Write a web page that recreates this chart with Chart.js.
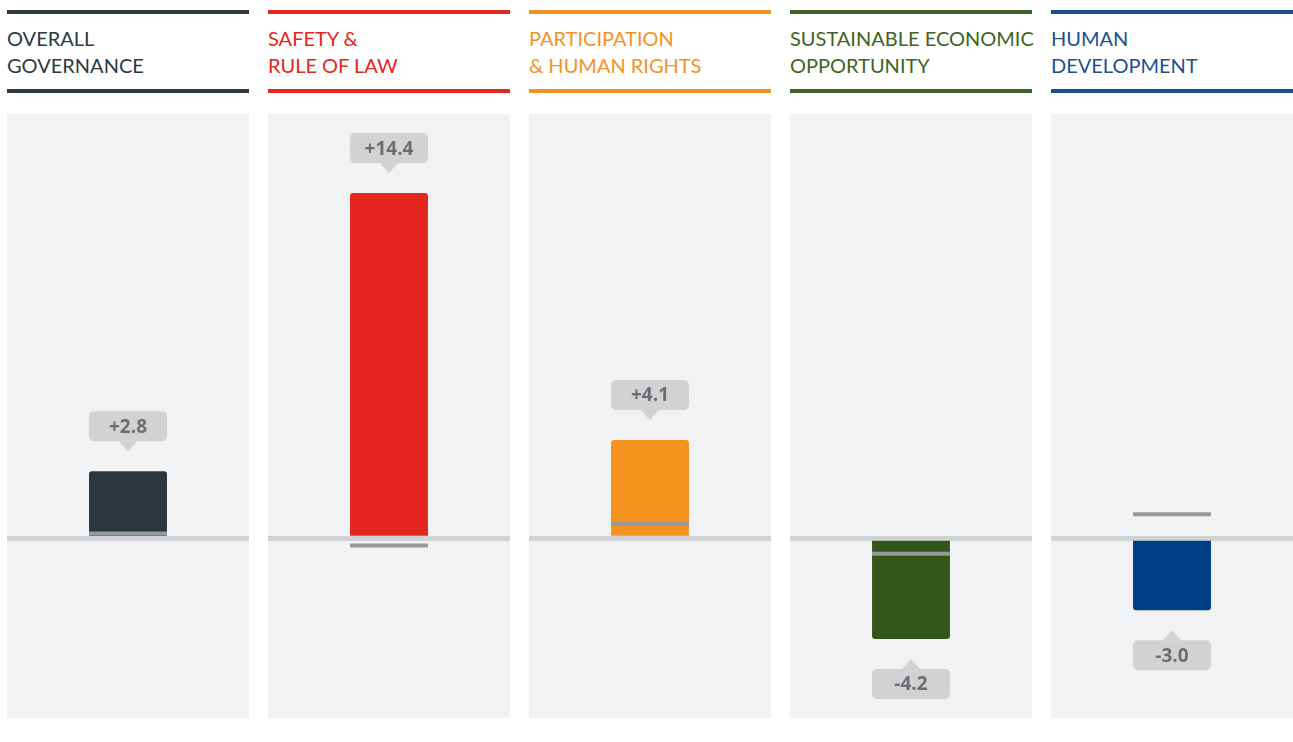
<!DOCTYPE html>
<html>
<head>
<meta charset="utf-8">
<script src="https://cdn.jsdelivr.net/npm/chart.js@4/dist/chart.umd.min.js"></script>
<style>
  body { margin: 0; background: #fff; width: 1293px; height: 742px; overflow: hidden; }
  .row { display: flex; gap: 19px; position: absolute; left: 7px; top: 10px; }
  .col { width: 242px; }
  .head {
    border-top: 4px solid; border-bottom: 4px solid;
    padding: 11px 0 10px 0; height: 54px;
    font-family: Lato, "Open Sans", sans-serif; font-size: 20px; line-height: 27px;
    white-space: nowrap;
  }
  canvas { display: block; margin-top: 21px; background: #f1f2f4; }
</style>
</head>
<body>
<div class="row" id="row"></div>
<script>
var categories = [
    ['OVERALL', 'GOVERNANCE'],
    ['SAFETY &', 'RULE OF LAW'],
    ['PARTICIPATION', '& HUMAN RIGHTS'],
    ['SUSTAINABLE ECONOMIC', 'OPPORTUNITY'],
    ['HUMAN', 'DEVELOPMENT']
];
var changes = [2.8, 14.4, 4.1, -4.2, -3.0];
var markers = [0.2, -0.3, 0.6, -0.65, 1.0];
var headColors = ['#2d3a40', '#e52620', '#f39325', '#3f6424', '#1d4f91'];
var barColors = ['#2c383e', '#e52620', '#f6921e', '#35561a', '#003f87'];

var bubblePlugin = {
    id: 'bubbles',
    afterDatasetsDraw: function (chart) {
        var ctx = chart.ctx;
        var el = chart.getDatasetMeta(1).data[0];
        var v = chart.data.datasets[1].data[0];
        var w = el.width, x = el.x, left = x - w / 2;
        var top, tipY, baseY;
        if (v >= 0) { baseY = el.y - 30; top = baseY - 30; tipY = el.y - 20; }
        else { baseY = el.y + 30; top = baseY; tipY = el.y + 20; }
        ctx.save();
        ctx.fillStyle = '#d1d2d4';
        ctx.beginPath();
        ctx.roundRect(left, top, w, 30, 5);
        ctx.fill();
        ctx.beginPath();
        ctx.moveTo(x - 9, baseY);
        ctx.lineTo(x, tipY);
        ctx.lineTo(x + 9, baseY);
        ctx.closePath();
        ctx.fill();
        ctx.fillStyle = '#6d6e71';
        ctx.font = 'bold 19px "Open Sans", Lato, sans-serif';
        ctx.textAlign = 'center';
        ctx.textBaseline = 'middle';
        ctx.fillText((v > 0 ? '+' : '') + v.toFixed(1), x, top + 16);
        ctx.restore();
    }
};

var row = document.getElementById('row');
categories.forEach(function (cat, i) {
    var col = document.createElement('div');
    col.className = 'col';
    var head = document.createElement('div');
    head.className = 'head';
    head.style.color = headColors[i];
    head.style.borderColor = headColors[i];
    head.innerHTML = cat[0].replace('&', '&amp;') + '<br>' + cat[1].replace('&', '&amp;');
    var canvas = document.createElement('canvas');
    canvas.width = 242;
    canvas.height = 604;
    col.appendChild(head);
    col.appendChild(canvas);
    row.appendChild(col);

    new Chart(canvas, {
        type: 'bar',
        data: {
            labels: [cat.join(' ')],
            datasets: [
                {
                    data: [[markers[i] - 0.085, markers[i] + 0.085]],
                    backgroundColor: '#97989b',
                    grouped: false,
                    borderSkipped: false,
                    categoryPercentage: 1,
                    barPercentage: 0.322,
                    order: 0
                },
                {
                    data: [changes[i]],
                    backgroundColor: barColors[i],
                    borderRadius: 3,
                    grouped: false,
                    categoryPercentage: 1,
                    barPercentage: 0.322,
                    order: 1
                }
            ]
        },
        options: {
            animation: false,
            responsive: false,
            events: [],
            layout: { padding: 0 },
            plugins: { legend: { display: false }, tooltip: { enabled: false } },
            scales: {
                x: { display: false },
                y: {
                    min: -7.5,
                    max: 17.7,
                    z: 1,
                    afterFit: function (s) { s.width = 0; },
                    ticks: { display: false, stepSize: 2.5 },
                    border: { display: false },
                    grid: {
                        drawTicks: false,
                        lineWidth: 5,
                        color: function (c) { return c.tick && c.tick.value === 0 ? '#d1d2d4' : 'rgba(0,0,0,0)'; }
                    }
                }
            }
        },
        plugins: [bubblePlugin]
    });
});
</script>
</body>
</html>
